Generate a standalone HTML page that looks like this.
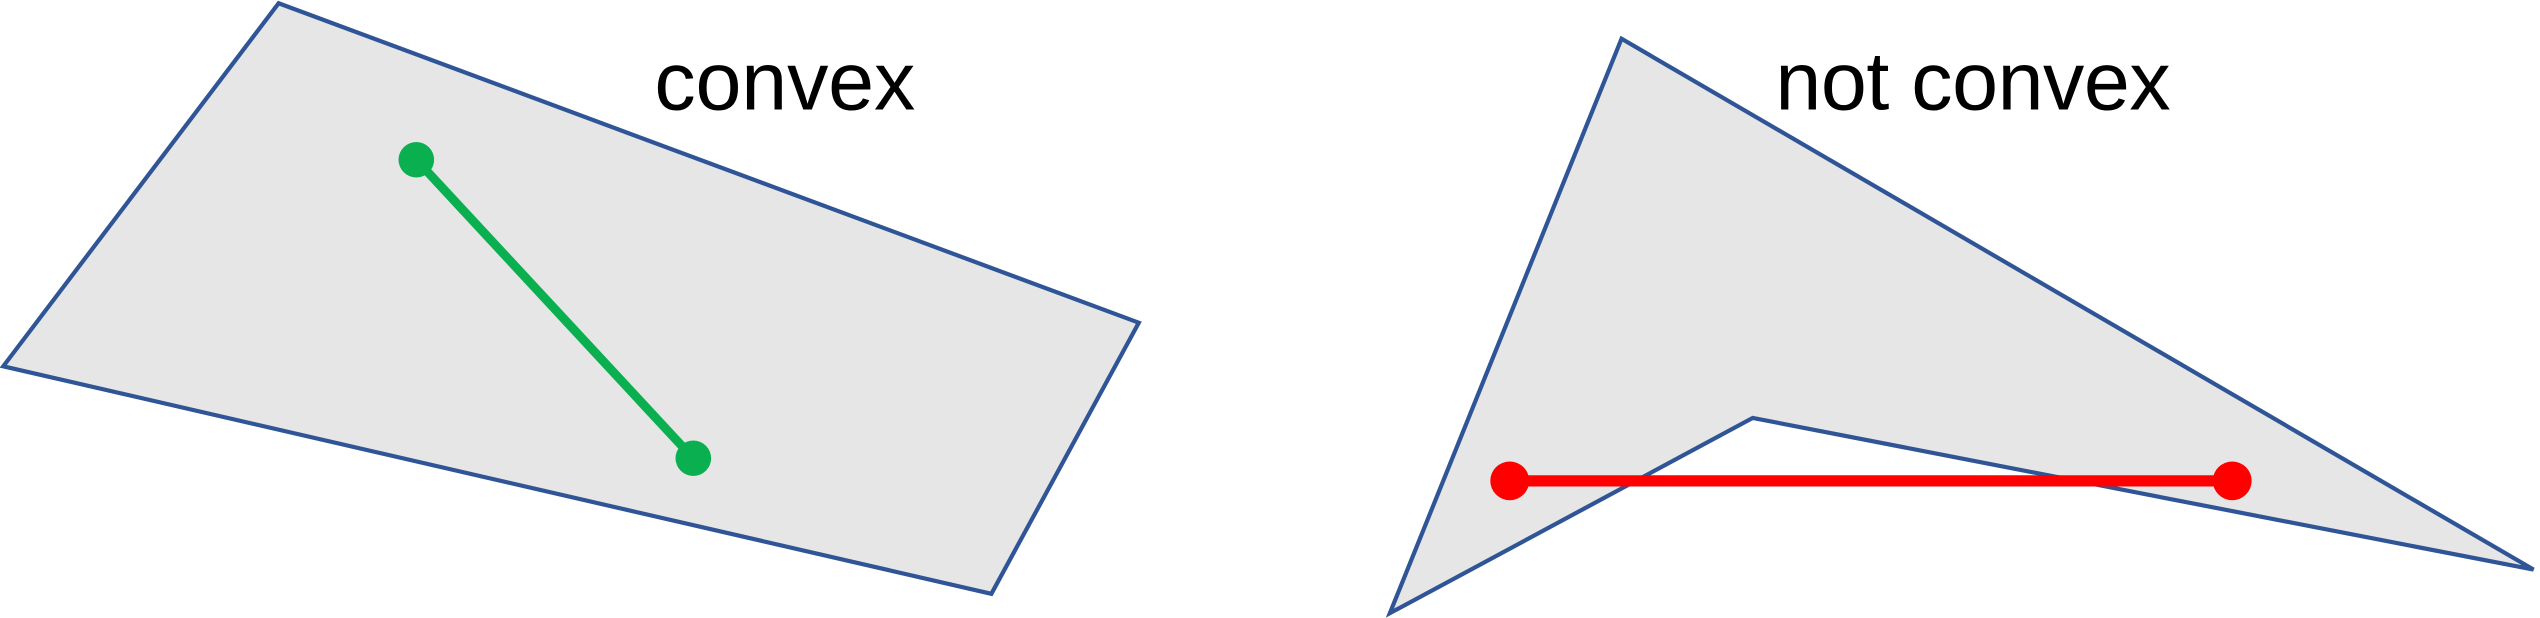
<!DOCTYPE html>
<html><head><meta charset="utf-8"><style>html,body{margin:0;padding:0;background:#fff;overflow:hidden}svg{display:block}</style></head>
<body>
<svg width="2540" height="618" viewBox="0 0 1568 383" preserveAspectRatio="none">
<polygon points="172,2 703,200 612,368 2,227" fill="#e6e6e6" stroke="#2F5597" stroke-width="2.6"/>
<line x1="257" y1="99" x2="428" y2="284" stroke="#0AB050" stroke-width="5.5"/>
<circle cx="257" cy="99" r="11" fill="#0AB050"/>
<circle cx="428" cy="284" r="11" fill="#0AB050"/>
<text x="404" y="68" font-family="Liberation Sans, sans-serif" font-size="51" textLength="161" fill="#000">convex</text>
<polygon points="1001,24 1564,353 1082,259 858,380" fill="#e6e6e6" stroke="#2F5597" stroke-width="2.6"/>
<line x1="932" y1="298" x2="1378" y2="298" stroke="#FF0000" stroke-width="7"/>
<circle cx="932" cy="298" r="12" fill="#FF0000"/>
<circle cx="1378" cy="298" r="12" fill="#FF0000"/>
<text x="1096" y="68" font-family="Liberation Sans, sans-serif" font-size="51" textLength="244" fill="#000">not convex</text>
</svg>
</body></html>
